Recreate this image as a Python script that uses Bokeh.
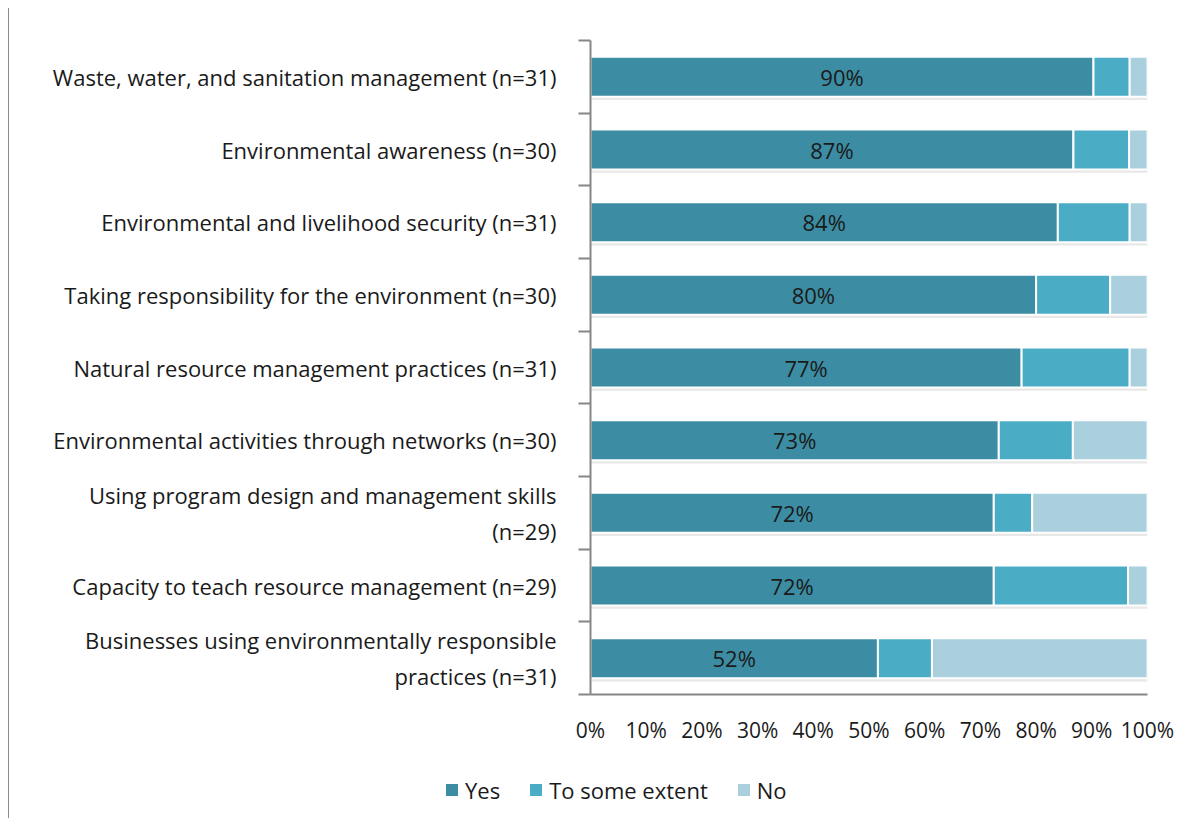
from bokeh.plotting import figure
from bokeh.layouts import column
from bokeh.models import (ColumnDataSource, Range1d, FixedTicker, Div,
                          PrintfTickFormatter)
from bokeh.core.properties import value
from bokeh.embed import file_html
from bokeh.resources import INLINE

categories = [
    "Waste, water, and sanitation management (n=31)",
    "Environmental awareness (n=30)",
    "Environmental and livelihood security (n=31)",
    "Taking responsibility for the environment (n=30)",
    "Natural resource management practices (n=31)",
    "Environmental activities through networks (n=30)",
    "Using program design and management skills\n(n=29)",
    "Capacity to teach resource management (n=29)",
    "Businesses using environmentally responsible\npractices (n=31)",
]
yes = [90.3, 86.7, 83.9, 80.0, 77.4, 73.3, 72.4, 72.4, 51.6]
some = [6.5, 10.0, 12.9, 13.3, 19.4, 13.3, 6.9, 24.1, 9.7]
no = [3.2, 3.3, 3.2, 6.7, 3.2, 13.4, 20.7, 3.5, 38.7]
series_names = ["Yes", "To some extent", "No"]
colors = ["#3C8DA3", "#4BACC6", "#AACFDD"]
x_ticks = [0, 10, 20, 30, 40, 50, 60, 70, 80, 90, 100]

FONT = "Open Sans"
n = len(categories)
centers = [i + 0.5 for i in range(n)]
boundaries = list(range(n + 1))

yes_end = yes
some_end = [a + b for a, b in zip(yes, some)]
no_end = [a + b + c for a, b, c in zip(yes, some, no)]

src = ColumnDataSource(dict(
    y=centers,
    y_shadow=[c + 0.045 for c in centers],
    zero=[0] * n,
    yes_end=yes_end,
    some_end=some_end,
    no_end=no_end,
    shadow_end=[v + 0.5 for v in no_end],
    label_x=[v / 2 for v in yes],
    label=[f"{round(v)}%" for v in yes],
))

p = figure(frame_width=557, frame_height=654, output_backend="svg", toolbar_location=None,
           x_range=Range1d(0, 100), y_range=Range1d(n, 0),
           min_border_left=581, min_border_right=43, min_border_top=32,
           min_border_bottom=56)
p.outline_line_color = None
p.xgrid.visible = False
p.ygrid.visible = False
p.background_fill_color = "white"
p.border_fill_color = "white"

bh = 0.55
# soft shadow under bars
p.hbar(y="y_shadow", left="zero", right="shadow_end", height=bh, source=src,
       fill_color="#7f7f7f", fill_alpha=0.18, line_color=None)
r1 = p.hbar(y="y", left="zero", right="yes_end", height=bh, source=src,
            fill_color=colors[0], line_color="white", line_width=2)
r2 = p.hbar(y="y", left="yes_end", right="some_end", height=bh, source=src,
            fill_color=colors[1], line_color="white", line_width=2)
r3 = p.hbar(y="y", left="some_end", right="no_end", height=bh, source=src,
            fill_color=colors[2], line_color="white", line_width=2)

p.text(x="label_x", y="y", text="label", source=src, text_align="center",
       text_baseline="middle", text_font=value(FONT), text_font_size="22px",
       text_color="#1a1a1a")

# y axis
ya = p.yaxis[0]
ya.ticker = FixedTicker(ticks=centers, minor_ticks=boundaries)
ya.major_label_overrides = {c: cat for c, cat in zip(centers, categories)}
ya.major_tick_out = 0
ya.major_tick_in = 0
ya.minor_tick_out = 12
ya.minor_tick_in = 0
ya.minor_tick_line_color = "#868686"
ya.minor_tick_line_width = 2
ya.axis_line_color = "#868686"
ya.axis_line_width = 2
ya.major_label_text_font = FONT
ya.major_label_text_font_size = "22px"
ya.major_label_text_color = "#1a1a1a"
ya.major_label_standoff = 22

# x axis
xa = p.xaxis[0]
xa.ticker = FixedTicker(ticks=x_ticks)
xa.formatter = PrintfTickFormatter(format="%d%%")
xa.major_tick_out = 0
xa.major_tick_in = 0
xa.minor_tick_out = 0
xa.minor_tick_in = 0
xa.axis_line_color = "#868686"
xa.axis_line_width = 2
xa.major_label_text_font = FONT
xa.major_label_text_font_size = "21px"
xa.major_label_text_color = "#1a1a1a"
xa.major_label_standoff = 21

# legend strip below the chart (HTML text)
items_html = "".join(
    f'<span style="display:inline-block;width:12px;height:12px;background:{c};'
    f'margin-right:7px;"></span>'
    f'<span style="margin-right:30px;white-space:nowrap;">{name}</span>'
    for name, c in zip(series_names, colors)
)
legend_div = Div(
    text=(f'<div style="display:flex;align-items:center;padding-left:432px;'
          f'padding-top:20px;font-family:\'{FONT}\';font-size:22px;line-height:30px;'
          f'color:#1a1a1a;">{items_html}</div>'),
    width=1181, height=60,
)

layout = column(p, legend_div, spacing=0,
                styles={"border-left": "1px solid #8c8c8c", "margin-left": "8px",
                        "margin-top": "8px"})

open("out.html", "w").write(file_html(layout, INLINE))
